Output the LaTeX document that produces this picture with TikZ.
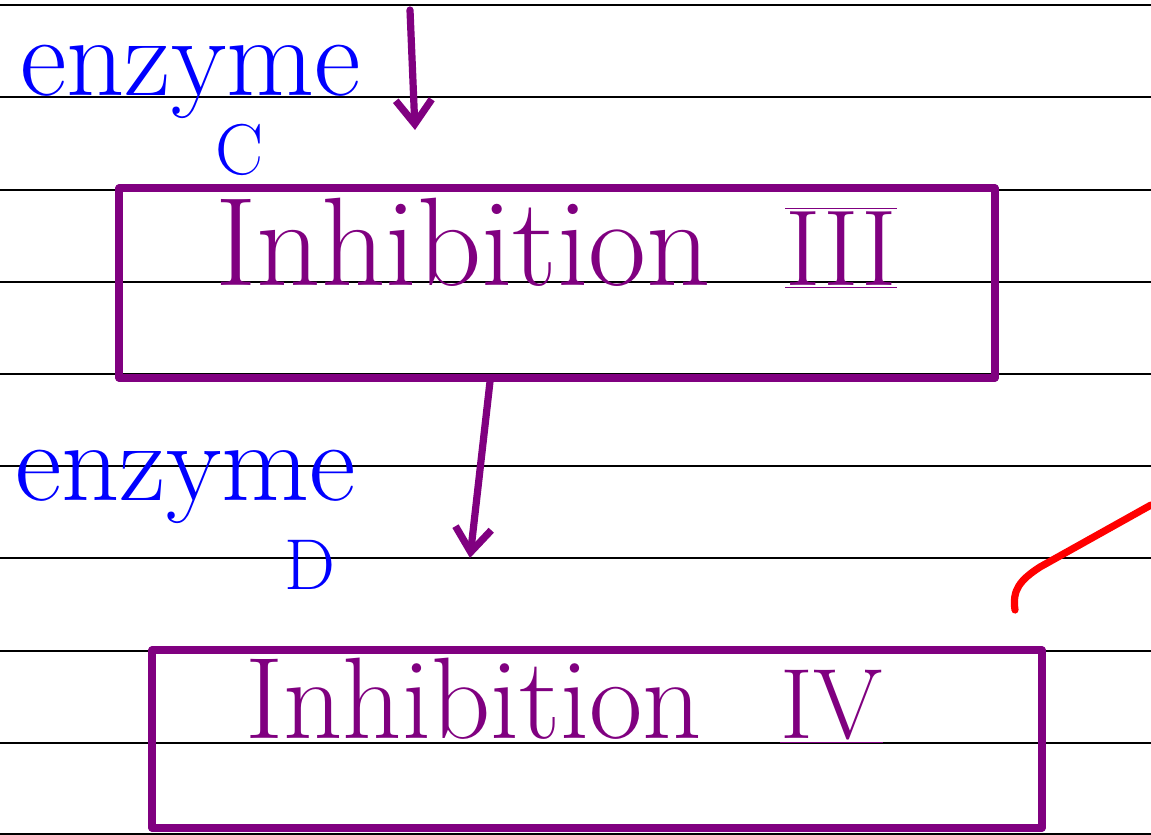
\documentclass[tikz,border=0pt]{standalone}
\usetikzlibrary{arrows.meta}
\definecolor{ink}{RGB}{128,0,128}
\definecolor{pen}{RGB}{0,0,255}
\definecolor{redpen}{RGB}{255,0,0}
\begin{document}
\begin{tikzpicture}[x=0.5pt,y=-0.5pt,
  rule/.style={black,line width=1.3pt},
  box/.style={draw=ink,line width=3.6pt,rectangle,line join=round},
  title/.style={text=ink,font=\fontsize{63}{65}\selectfont,inner sep=0pt},
  numeral/.style={text=ink,font=\fontsize{54}{56}\selectfont,inner sep=0pt},
  label/.style={text=pen,font=\fontsize{57}{59}\selectfont,inner sep=0pt},
  sub/.style={text=pen,font=\fontsize{36}{38}\selectfont,inner sep=0pt},
  flow/.style={draw=ink,line width=3.6pt,line cap=round,-{Straight Barb[length=12pt,width=18pt,line width=3.6pt]}}]
\useasboundingbox (0,0) rectangle (1151,835);
\fill[white] (0,0) rectangle (1151,835);
\foreach \y in {5,97,190,282,374,466,558,651,743,834}
  \draw[rule] (0,\y) -- (1151,\y);
% boxes
\node[box,minimum width=438pt,minimum height=95pt] (b3) at (557,283) {};
\node[box,minimum width=445pt,minimum height=89pt] (b4) at (597,739) {};
% texts
\node[title,anchor=base west] (t3) at (215,285) {Inhibition};
\node[numeral,anchor=base west] (n3) at (785,285) {$\underline{\overline{\mbox{III}}}$};
\node[title,anchor=base west,font=\fontsize{58}{60}\selectfont] (t4) at (245,738) {Inhibition};
\node[numeral,anchor=base west,font=\fontsize{50}{52}\selectfont] (n4) at (780,738) {\underline{IV}};
\node[label,anchor=base west] (e1) at (20,95) {enzyme};
\node[sub] (c1) at (240,150) {C};
\node[label,anchor=base west] (e2) at (15,500) {enzyme};
\node[sub] (d1) at (310,565) {D};
% arrows
\coordinate (top) at (410,10);
\coordinate (h1) at (415,130);
\draw[flow] (top) -- (h1);
\coordinate (h2) at (470,558);
\draw[flow] (b3.south -| 490,0) -- (h2);
% red stroke
\coordinate (r0) at (1015,610);
\coordinate (r1) at (1151,505);
\draw[redpen,line width=3.6pt,line cap=round] (r0) .. controls (1012,590) and (1020,580) .. (1040,567) -- (r1);
\end{tikzpicture}
\end{document}
